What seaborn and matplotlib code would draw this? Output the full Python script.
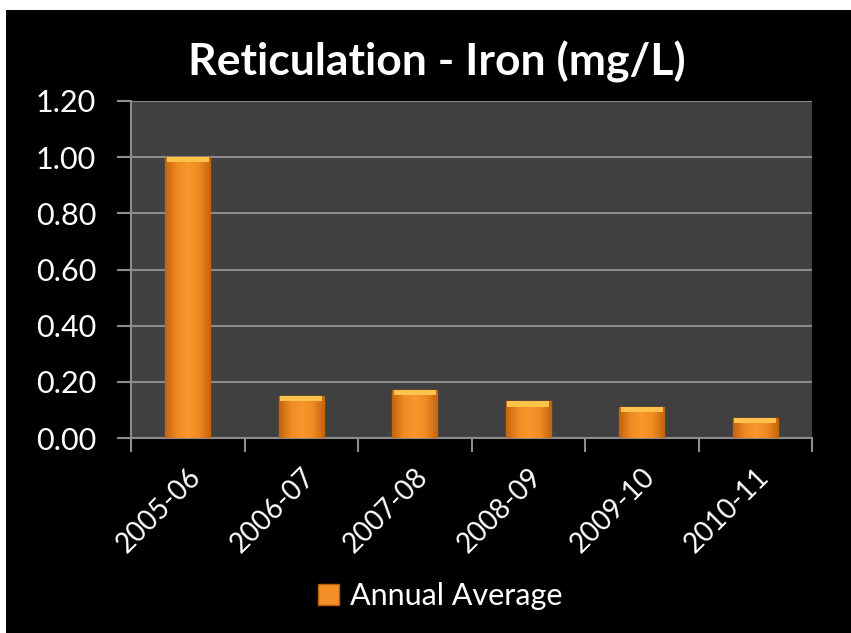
import numpy as np
import pandas as pd
import matplotlib
matplotlib.use("Agg")
import matplotlib.pyplot as plt
import matplotlib.transforms as mtrans
import seaborn as sns
from matplotlib.patches import Rectangle
from matplotlib.colors import LinearSegmentedColormap

years = ["2005-06", "2006-07", "2007-08", "2008-09", "2009-10", "2010-11"]
iron = [1.00, 0.15, 0.17, 0.13, 0.11, 0.07]
series_name = "Annual Average"

sns.set_theme(style="dark")
plt.rcParams["font.family"] = ["Lato", "DejaVu Sans"]

df = pd.DataFrame({"year": years, "iron": iron, "series": series_name})

fig = plt.figure(figsize=(8.51, 6.33), dpi=100, facecolor="white")
# black slide background with thin white margin at top/left
fig.patches.append(Rectangle((6 / 851, 0), 1, 1 - 10 / 633, transform=fig.transFigure,
                             facecolor="black", edgecolor="none", zorder=-10))

ax = fig.add_axes([131 / 851, 1 - 438 / 633, (812 - 131) / 851, (438 - 101) / 633])
ax.set_facecolor("#404040")

sns.barplot(data=df, x="year", y="iron", hue="series", palette=["#F39128"],
            width=0.4, saturation=1, ax=ax, zorder=3,
            edgecolor="#B85F0E", linewidth=1.0)

# bevel look: horizontal gradient plus a bright top strip
bevel = LinearSegmentedColormap.from_list(
    "bevel", ["#C2640E", "#F08A22", "#F7972C", "#F08A22", "#C2640E"])
grad = np.linspace(0, 1, 64).reshape(1, -1)
for p in list(ax.patches):
    h = p.get_height()
    if h <= 0:
        continue
    x0, w = p.get_x(), p.get_width()
    im = ax.imshow(grad, cmap=bevel, extent=(x0, x0 + w, 0, h), aspect="auto",
                   zorder=3.5, interpolation="bicubic")
    im.set_clip_path(p)
    top = min(0.018, h * 0.3)
    ax.add_patch(Rectangle((x0 + w * 0.04, h - top), w * 0.92, top,
                           facecolor="#FFC24A", edgecolor="none", zorder=4))

ax.set_ylim(0, 1.2)
ax.set_yticks(np.arange(0, 1.21, 0.2))
ax.set_yticklabels([f"{v:.2f}" for v in np.arange(0, 1.21, 0.2)])
ax.set_xlim(-0.5, len(years) - 0.5)
ax.set_xticks(range(len(years)))
ax.set_xticklabels(years, rotation=45, ha="right", rotation_mode="anchor")
ax.set_xticks(np.arange(-0.5, len(years)), minor=True)

shift = mtrans.ScaledTranslation(14 / 100, 0, fig.dpi_scale_trans)
for lbl in ax.get_xticklabels():
    lbl.set_transform(lbl.get_transform() + shift)

ax.yaxis.grid(True, color="#8C8C8C", linewidth=1.5, zorder=0)
ax.xaxis.grid(False)
ax.set_axisbelow(True)

for side in ["top", "right"]:
    ax.spines[side].set_visible(False)
for side in ["left", "bottom"]:
    ax.spines[side].set_color("#8C8C8C")
    ax.spines[side].set_linewidth(1.5)

ax.tick_params(axis="y", which="major", colors="#8C8C8C", length=10, width=1.5,
               labelcolor="white", labelsize=22, pad=15, left=True)
ax.tick_params(axis="x", which="major", length=0, labelcolor="white",
               labelsize=20, pad=18)
ax.tick_params(axis="x", which="minor", colors="#8C8C8C", length=10, width=1.5,
               bottom=True)

ax.set_xlabel("")
ax.set_ylabel("")

fig.text(437 / 851, 1 - 62 / 633, "Reticulation - Iron (mg/L)", color="white",
         fontsize=32, fontweight="bold", ha="center", va="center")

leg = ax.legend(loc="center", bbox_to_anchor=(440 / 851, 1 - 596 / 633),
                bbox_transform=fig.transFigure, frameon=False, fontsize=22,
                handlelength=0.7, handleheight=0.7, handletextpad=0.35,
                labelcolor="white")

fig.savefig("out.png", dpi=100, facecolor=fig.get_facecolor())
